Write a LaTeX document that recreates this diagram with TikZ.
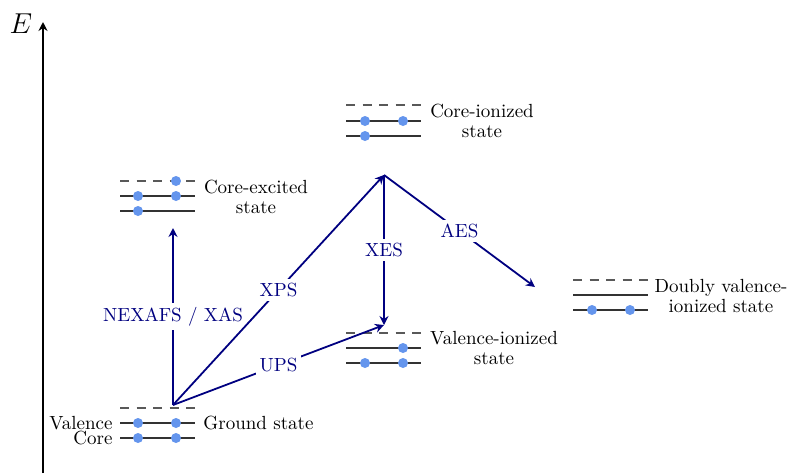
\documentclass[tikz,border=0pt]{standalone}
\usetikzlibrary{arrows.meta}
\definecolor{dotblue}{RGB}{100,149,237}
\definecolor{navyc}{RGB}{0,0,128}
\begin{document}
\begin{tikzpicture}[x=0.5pt,y=-0.5pt,
  font=\fontsize{9.5}{10}\selectfont,
  lvl/.style={draw=black!80,line width=0.6pt},
  emptylvl/.style={draw=black!65,line width=0.6pt,dash pattern=on 4.5pt off 3.75pt},
  el/.style={circle,fill=dotblue,inner sep=0pt,minimum size=5pt},
  trans/.style={draw=navyc,line width=0.9pt,-{Stealth[length=4.5pt,width=4.5pt,inset=1.5pt]}},
  tlabel/.style={fill=white,text=navyc,inner sep=2pt},
  statelabel/.style={align=center,inner sep=0pt}]
\useasboundingbox (0,0) rectangle (792,473);
% energy axis
\draw[line width=0.8pt,-{Stealth[length=4.5pt,width=4.5pt,inset=1.5pt]}] (43,473) -- (43,22);
\node[anchor=center,inner sep=0pt] (E) at (21,24) {\fontsize{14}{14}\selectfont$E$};

% Ground state
\draw[emptylvl] (120,408) -- (195,408);
\draw[lvl] (120,423) -- (195,423);
\draw[lvl] (120,438) -- (195,438);
\node[el] (g1) at (138,423) {}; \node[el] (g2) at (176,423) {};
\node[el] (g3) at (138,438) {}; \node[el] (g4) at (176,438) {};
\node[anchor=east,inner sep=0pt,text height=6.5pt,text depth=0pt] (val) at (113,423) {Valence};
\node[anchor=east,inner sep=0pt,text height=6.5pt,text depth=0pt] (core) at (113,438) {Core};
\node[anchor=west,inner sep=0pt] (gs) at (203,423) {Ground state};

% Core-excited
\draw[emptylvl] (120,181) -- (195,181);
\draw[lvl] (120,196) -- (195,196);
\draw[lvl] (120,211) -- (195,211);
\node[el] (c1) at (176,181) {};
\node[el] (c2) at (138,196) {}; \node[el] (c3) at (176,196) {};
\node[el] (c4) at (138,211) {};
\node[statelabel] (ce) at (256,197) {Core-excited\\state};

% Core-ionized
\draw[emptylvl] (346,105) -- (421,105);
\draw[lvl] (346,121) -- (421,121);
\draw[lvl] (346,136) -- (421,136);
\node[el] (i1) at (365,121) {}; \node[el] (i2) at (403,121) {};
\node[el] (i3) at (365,136) {};
\node[statelabel] (ci) at (482,121) {Core-ionized\\state};

% Valence-ionized
\draw[emptylvl] (346,333) -- (421,333);
\draw[lvl] (346,348) -- (421,348);
\draw[lvl] (346,363) -- (421,363);
\node[el] (v1) at (403,348) {};
\node[el] (v2) at (365,363) {}; \node[el] (v3) at (403,363) {};
\node[statelabel] (vi) at (494,348) {Valence-ionized\\state};

% Doubly valence-ionized
\draw[emptylvl] (573,280) -- (648,280);
\draw[lvl] (573,295) -- (648,295);
\draw[lvl] (573,310) -- (648,310);
\node[el] (d1) at (592,310) {}; \node[el] (d2) at (630,310) {};
\node[statelabel] (dv) at (721,296) {Doubly valence-\\ionized state};

% transition endpoints
\coordinate (G) at (173,405);
\coordinate (CE) at (173,228);
\coordinate (CI) at (384,175);
\coordinate (VI) at (384,325);
\coordinate (DV) at (535,287);

\draw[trans] (G) -- node[tlabel,pos=0.5] (nex) {NEXAFS / XAS} (CE);
\draw[trans] (G) -- node[tlabel,pos=0.5] (xps) {XPS} (CI);
\draw[trans] (G) -- node[tlabel,pos=0.5] (ups) {UPS} (VI);
\draw[trans] (CI) -- node[tlabel,pos=0.5] (xes) {XES} (VI);
\draw[trans] (CI) -- node[tlabel,pos=0.5] (aes) {AES} (DV);
\end{tikzpicture}
\end{document}
